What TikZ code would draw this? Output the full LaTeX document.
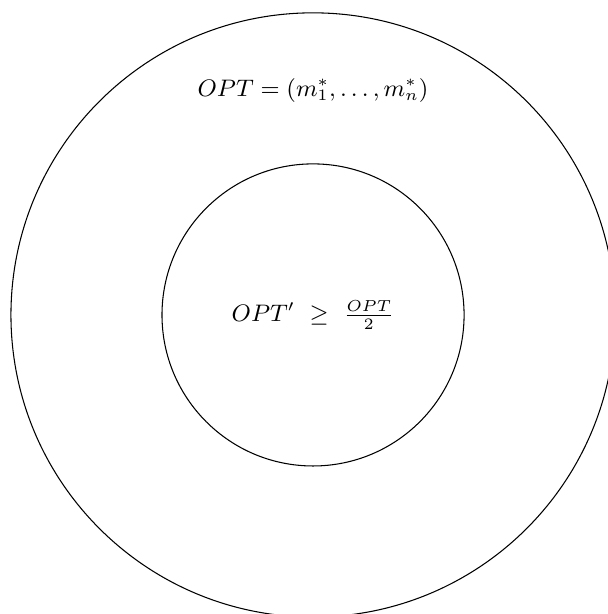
\documentclass[tikz,border=0pt]{standalone}
\begin{document}
\begin{tikzpicture}[ring/.style={circle,draw,line width=0.4pt,inner sep=0pt},
  lbl/.style={font=\fontsize{8.55}{10}\selectfont}]
\useasboundingbox (-4.145,-3.96) rectangle (3.905,4.17);
\clip (-4.145,-3.96) rectangle (3.905,4.17);
\node[ring,minimum size=8cm] (outer) at (0,0) {};
\node[ring,minimum size=4cm] (inner) at (0,0) {};
\node[lbl] (optlabel) at (0,2.97) {$OPT = (m_1^*, \ldots, m_n^*)$};
\node[lbl] (bound) at (0,0) {$OPT' \ \geq \ \frac{OPT}{2}$};
\end{tikzpicture}
\end{document}
